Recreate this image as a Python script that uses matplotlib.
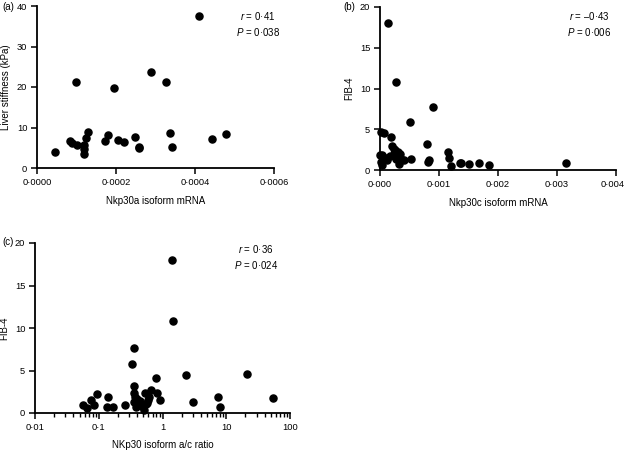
import matplotlib
matplotlib.use("Agg")
import matplotlib.pyplot as plt
import matplotlib.transforms as mtransforms
import numpy as np
from matplotlib.ticker import FixedLocator, FuncFormatter, LogLocator, NullFormatter

plt.rcParams["font.family"] = ["Liberation Sans", "DejaVu Sans"]
plt.rcParams["mathtext.fontset"] = "custom"
plt.rcParams["mathtext.it"] = "Liberation Sans:italic"
plt.rcParams["mathtext.rm"] = "Liberation Sans"

# (a) Nkp30a isoform mRNA vs liver stiffness
a_x = [0.0000447, 0.0000843, 0.000088, 0.000101, 0.0000995, 0.000118, 0.000119,
       0.00012, 0.000125, 0.00013, 0.000171, 0.00018, 0.000195, 0.000204,
       0.000221, 0.000248, 0.000258, 0.000259, 0.000288, 0.000327, 0.000336,
       0.000343, 0.000411, 0.000443, 0.000479]
a_y = [3.9, 6.6, 6.1, 5.7, 21.3, 5.6, 4.8, 3.4, 7.4, 8.9, 6.6, 8.1, 19.7, 7.0,
       6.3, 7.7, 5.3, 5.0, 23.8, 21.3, 8.6, 5.2, 37.5, 7.1, 8.4]

# (b) Nkp30c isoform mRNA vs FIB-4
b_x = [0.00013, 0.00027, 0.0009, 0.00051, 0.00001, 0.00007, 0.00019, 0.0002,
       0.00026, 0.0003, 0.00034, 0.00031, 0.00027, 0.00023, 0.00036, 0.0,
       0.00004, 0.0001, 0.00012, 0.00001, 0.00003, 0.00032, 0.0004, 0.00053,
       0.0008, 0.00083, 0.00082, 0.00115, 0.00117, 0.00121, 0.00135, 0.00137,
       0.0015, 0.00168, 0.00185, 0.00315, 0.00017, 0.00024]
b_y = [18.0, 10.8, 7.7, 5.9, 4.7, 4.5, 4.1, 2.9, 2.4, 2.2, 2.0, 1.6, 1.4,
       2.0, 1.3, 1.8, 1.9, 1.5, 1.2, 0.95, 0.6, 0.7, 1.2, 1.4, 3.2, 1.2, 1.0,
       2.2, 1.5, 0.55, 0.9, 0.8, 0.75, 0.9, 0.65, 0.9, 1.7, 2.6]

# (c) NKp30 isoform a/c ratio vs FIB-4
c_x = [1.43, 1.46, 0.357, 0.335, 0.79, 2.31, 20.9, 54.7, 7.35, 8.1, 3.04,
       0.056, 0.065, 0.075, 0.084, 0.095, 0.141, 0.133, 0.169, 0.258, 0.357,
       0.36, 0.37, 0.36, 0.39, 0.44, 0.50, 0.52, 0.53, 0.60, 0.62, 0.67, 0.83,
       0.93, 0.47, 0.55, 0.40, 0.58]
c_y = [17.95, 10.8, 7.6, 5.8, 4.1, 4.45, 4.6, 1.8, 1.9, 0.67, 1.3, 1.0, 0.64,
       1.5, 0.95, 2.25, 1.9, 0.7, 0.67, 0.9, 3.15, 2.4, 1.9, 1.3, 0.7, 1.4,
       0.7, 0.35, 2.3, 1.5, 1.9, 2.7, 2.3, 1.5, 1.0, 1.1, 1.6, 1.2]

a_xticks = [0.0, 0.0002, 0.0004, 0.0006]
b_xticks = [0.0, 0.001, 0.002, 0.003, 0.004]
c_xticks = [0.01, 0.1, 1, 10, 100]
c_xticklabels = ["0·01", "0·1", "1", "10", "100"]

FS = 7
TFS = 6.7


def dot(fmt):
    return FuncFormatter(lambda v, pos: (fmt % v).replace(".", "·"))


def style(ax):
    for side in ["top", "right"]:
        ax.spines[side].set_visible(False)
    for side in ["left", "bottom"]:
        ax.spines[side].set_linewidth(1.3)
    ax.tick_params(direction="out", length=4, width=1.1, labelsize=TFS, pad=3)


W, H = 625, 450
fig = plt.figure(figsize=(6.25, 4.5), dpi=100)


def axes_px(left, top, right, bottom):
    return fig.add_axes([left / W, 1 - bottom / H, (right - left) / W, (bottom - top) / H])


# panel a
ax1 = axes_px(37, 6, 274, 168)
ax1.scatter(a_x, a_y, s=26, color="black", zorder=3)
ax1.set_xlim(0, 0.0006)
ax1.set_ylim(0, 40)
ax1.xaxis.set_major_locator(FixedLocator(a_xticks))
ax1.xaxis.set_major_formatter(dot("%.4f"))
ax1.set_yticks([0, 10, 20, 30, 40])
ax1.set_xlabel("Nkp30a isoform mRNA", fontsize=FS, labelpad=7)
ax1.set_ylabel("Liver stiffness (kPa)", fontsize=FS, labelpad=4)
style(ax1)

# panel b
ax2 = axes_px(380, 7, 616, 170)
ax2.scatter(b_x, b_y, s=26, color="black", zorder=3, clip_on=False)
ax2.set_xlim(0, 0.004)
ax2.set_ylim(0, 20)
ax2.xaxis.set_major_locator(FixedLocator(b_xticks))
ax2.xaxis.set_major_formatter(dot("%.3f"))
ax2.set_yticks([0, 5, 10, 15, 20])
ax2.set_xlabel("Nkp30c isoform mRNA", fontsize=FS, labelpad=7)
ax2.set_ylabel("FIB-4", fontsize=FS, labelpad=4)
style(ax2)
# last tick label sits at the figure edge, nudge it in a little
last = ax2.get_xticklabels()[-1]
last.set_transform(last.get_transform() +
                   mtransforms.ScaledTranslation(-3 / 100, 0, fig.dpi_scale_trans))

# panel c
ax3 = axes_px(35, 243, 290, 413)
ax3.scatter(c_x, c_y, s=26, color="black", zorder=3, clip_on=False)
ax3.set_xscale("log")
ax3.set_xlim(0.01, 100)
ax3.set_ylim(0, 20)
ax3.xaxis.set_major_locator(FixedLocator(c_xticks))
ax3.xaxis.set_major_formatter(FuncFormatter(lambda v, pos: c_xticklabels[pos]))
ax3.xaxis.set_minor_locator(LogLocator(base=10, subs=np.arange(2, 10)))
ax3.xaxis.set_minor_formatter(NullFormatter())
ax3.set_yticks([0, 5, 10, 15, 20])
ax3.set_xlabel("NKp30 isoform a/c ratio", fontsize=FS, labelpad=6)
ax3.set_ylabel("FIB-4", fontsize=FS, labelpad=4)
style(ax3)
ax3.tick_params(which="minor", direction="out", length=3, width=1.0)

# panel letters
fig.text(2 / W, 1 - 10 / H, "(a)", fontsize=FS)
fig.text(343 / W, 1 - 10 / H, "(b)", fontsize=FS)
fig.text(2 / W, 1 - 245 / H, "(c)", fontsize=FS)

# statistics
stats = [(258, 16, r"$\it{r}$ = 0·41", r"$\it{P}$ = 0·038"),
         (589, 16, r"$\it{r}$ = –0·43", r"$\it{P}$ = 0·006"),
         (256, 249, r"$\it{r}$ = 0·36", r"$\it{P}$ = 0·024")]
for cx, cy, t1, t2 in stats:
    fig.text(cx / W, 1 - cy / H, t1, fontsize=FS, ha="center", va="center")
    fig.text(cx / W, 1 - (cy + 16) / H, t2, fontsize=FS, ha="center", va="center")

fig.savefig("out.png", dpi=100)
